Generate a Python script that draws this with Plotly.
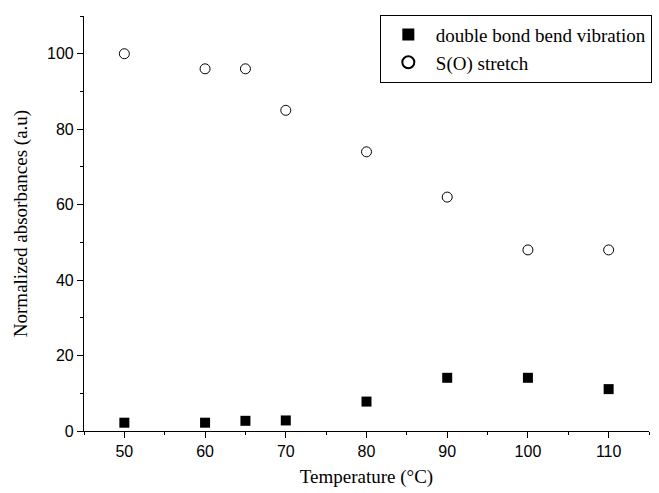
import plotly.graph_objects as go

# Temperature points (°C)
temperature = [50, 60, 65, 70, 80, 90, 100, 110]
# Normalized absorbances (a.u.)
double_bond = [2.2, 2.2, 2.7, 2.8, 7.8, 14.1, 14.1, 11.1]
so_stretch = [100, 96, 96, 85, 74, 62, 48, 48]

serif = "Liberation Serif, Times New Roman, serif"
sans = "Liberation Sans, Arial, sans-serif"

fig = go.Figure()
fig.add_trace(go.Scatter(
    x=temperature, y=double_bond, mode="markers",
    name="double bond bend vibration",
    marker=dict(symbol="square", size=10, color="black",
                line=dict(width=0)),
))
fig.add_trace(go.Scatter(
    x=temperature, y=so_stretch, mode="markers",
    name="S(O) stretch",
    marker=dict(symbol="circle-open", size=10, color="black",
                line=dict(width=1, color="black")),
))

axis_common = dict(
    showline=True, linecolor="black", linewidth=1.2,
    ticks="outside", ticklen=6, tickwidth=1.2, tickcolor="black",
    showgrid=False, zeroline=False, mirror=False,
    tickfont=dict(family=sans, size=16, color="black"),
    minor=dict(ticks="outside", ticklen=3, tickwidth=1.2, tickcolor="black"),
)

fig.update_xaxes(
    range=[45, 115], dtick=10, tick0=50,
    minor_dtick=5,
    title=dict(text="Temperature (°C)", font=dict(family=serif, size=19, color="black"),
               standoff=10),
    **axis_common,
)
fig.update_yaxes(
    range=[0, 110], dtick=20, tick0=0,
    minor_dtick=10,
    title=dict(text="Normalized absorbances (a.u)", font=dict(family=serif, size=19, color="black"),
               standoff=14),
    **axis_common,
)

fig.update_layout(
    width=659, height=493,
    margin=dict(l=84, r=7, t=16, b=62),
    paper_bgcolor="white", plot_bgcolor="white",
    showlegend=True,
    legend=dict(
        x=1.005, y=1.003, xanchor="right", yanchor="top",
        bgcolor="white", bordercolor="black", borderwidth=1,
        font=dict(family=serif, size=19, color="black"),
        itemsizing="constant", tracegroupgap=0, itemwidth=45,
    ),
)

fig.write_html("out.html")
